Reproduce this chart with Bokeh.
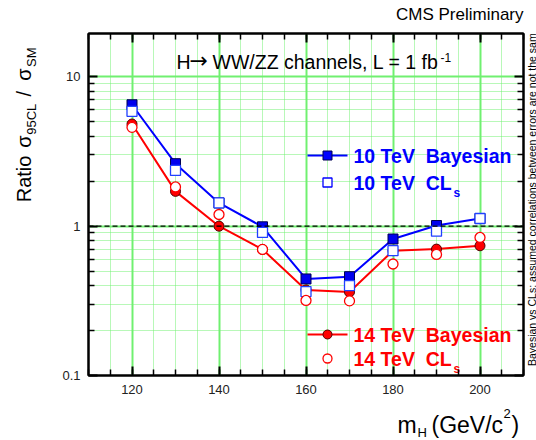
import math
from bokeh.plotting import figure
from bokeh.layouts import column, row
from bokeh.models import FixedTicker, LinearAxis, LogAxis, Span, CustomJSTickFormatter
from bokeh.core.properties import value
from bokeh.embed import file_html
from bokeh.resources import INLINE

# ---- data ----
mass = [120, 130, 140, 150, 160, 170, 180, 190, 200]
bayes_10 = [6.5, 2.62, 1.43, 0.99, 0.443, 0.459, 0.82, 1.01, 1.125]
cls_10 = [5.87, 2.36, 1.43, 0.908, 0.365, 0.40, 0.685, 0.926, 1.125]
bayes_14 = [4.83, 1.71, 1.0, 0.699, 0.374, 0.362, 0.685, 0.702, 0.739]
cls_14 = [4.59, 1.83, 1.197, 0.699, 0.318, 0.316, 0.558, 0.647, 0.84]

x_major = [120, 140, 160, 180, 200]
x_minor = list(range(110, 215, 5))
y_major = [0.1, 1, 10]
y_major_labels = ["0.1", "1", "10"]
y_minor = [0.2, 0.3, 0.4, 0.5, 0.6, 0.7, 0.8, 0.9, 2, 3, 4, 5, 6, 7, 8, 9]

FONT = "Liberation Sans"
GREEN = "#70f070"
BLUE = "#0000ff"
RED = "#ff0000"
X0, X1 = 110, 210
Y0, Y1 = 0.1, 19.5
NB = "\u00a0"

# page layout (pixels)
PW, PH = 536, 440
TOP_H = 25
LEFT_W = 50
RIGHT_W = 10
BOT_H = 40
MID_H = PH - TOP_H - BOT_H
MAIN_W = PW - LEFT_W - RIGHT_W
FL, FR, FT, FB = 88, 523, 33, 375  # frame edges on the page

p = figure(width=MAIN_W, height=MID_H, x_range=(X0, X1), y_range=(Y0, Y1), y_axis_type="log",
           output_backend="svg", toolbar_location=None,
           min_border_left=FL - LEFT_W, min_border_right=LEFT_W + MAIN_W - FR,
           min_border_top=FT - TOP_H, min_border_bottom=TOP_H + MID_H - FB)
p.background_fill_color = "white"
p.border_fill_color = "white"
p.outline_line_color = "black"
p.outline_line_width = 2

xt = FixedTicker(ticks=x_major, minor_ticks=x_minor)
yt = FixedTicker(ticks=y_major, minor_ticks=y_minor)
p.xaxis[0].ticker = xt
p.yaxis[0].ticker = yt
p.yaxis[0].major_label_overrides = {v: l for v, l in zip(y_major, y_major_labels)}

def style_axis(ax, labels=True):
    ax.axis_line_color = "black"
    ax.axis_line_width = 2
    ax.major_tick_in = 9
    ax.major_tick_out = 0
    ax.minor_tick_in = 6
    ax.minor_tick_out = 0
    ax.major_tick_line_width = 2
    ax.minor_tick_line_width = 1.5
    ax.major_label_text_font = FONT
    ax.major_label_text_font_size = "13px"
    ax.major_label_text_color = "#222222"
    ax.major_label_standoff = 9
    if not labels:
        ax.formatter = CustomJSTickFormatter(code="return ''")
        ax.major_label_standoff = 0

style_axis(p.xaxis[0])
style_axis(p.yaxis[0])
p.yaxis[0].major_label_standoff = 8

ax_top = LinearAxis(ticker=xt)
style_axis(ax_top, labels=False)
p.add_layout(ax_top, "above")
ax_right = LogAxis(ticker=yt)
style_axis(ax_right, labels=False)
p.add_layout(ax_right, "right")

for g in (p.xgrid[0], p.ygrid[0]):
    g.grid_line_color = GREEN
    g.grid_line_width = 2
    g.minor_grid_line_color = GREEN
    g.minor_grid_line_width = 1
    g.minor_grid_line_dash = "1 1"

p.add_layout(Span(location=1, dimension="width", line_color="black", line_width=1.2, line_dash="5 3"))

# ---- series ----
p.line(mass, bayes_10, line_color=BLUE, line_width=2)
p.line(mass, bayes_14, line_color=RED, line_width=2)
p.scatter(mass, bayes_10, marker="square", size=10, fill_color="#0000ee", line_color="#000050", line_width=1)
p.scatter(mass, bayes_14, marker="circle", size=10, fill_color=RED, line_color="#500000", line_width=1)
p.scatter(mass, cls_10, marker="square", size=10, fill_color="white", line_color="#2040ff", line_width=1.3)
p.scatter(mass, cls_14, marker="circle", size=10, fill_color="white", line_color=RED, line_width=1.3)

# ---- helpers: page pixel -> main-plot data coordinates ----
def to_data(px, py):
    dx = X0 + (px - FL) / (FR - FL) * (X1 - X0)
    ly0, ly1 = math.log10(Y0), math.log10(Y1)
    dy = 10 ** (ly0 + (FB - py) / (FB - FT) * (ly1 - ly0))
    return dx, dy

def ptext(px, py, txt, size, style="normal", color="black", font=FONT, align="left"):
    dx, dy = to_data(px, py)
    p.text([dx], [dy], text=[txt], text_font=value(font), text_font_size=size, text_font_style=style,
           text_color=color, text_baseline="middle", text_align=align)

# ---- legend (drawn by hand) ----
leg_rows = [
    (155, "10" + NB + "TeV" + NB + " Bayesian", BLUE, "square", True, "#000050"),
    (182, "10" + NB + "TeV" + NB + " CL", BLUE, "square", False, None),
    (334, "14" + NB + "TeV" + NB + " Bayesian", RED, "circle", True, "#500000"),
    (358, "14" + NB + "TeV" + NB + " CL", RED, "circle", False, None),
]
for py, txt, col, mk, filled, edge in leg_rows:
    a = to_data(307, py)
    b = to_data(347, py)
    c = to_data(327, py)
    if filled:
        p.line([a[0], b[0]], [a[1], b[1]], line_color=col, line_width=2)
        p.scatter([c[0]], [c[1]], marker=mk, size=9, fill_color=col, line_color=edge)
    else:
        p.scatter([c[0]], [c[1]], marker=mk, size=9, fill_color="white", line_color=col, line_width=1.3)
    ptext(353, py, txt, "19.5px", style="bold", color=col)
    if not filled:
        ptext(453, py + 10, "s", "12px", style="bold", color=col)

# ---- title inside the frame ----
ptext(176, 61, "H", "19.5px")
ptext(189, 60, "\u2192", "22px", font="DejaVu Sans")
ptext(212, 61, "WW/ZZ channels, L = 1 fb", "19.5px")
ptext(440, 57, "-1", "12px")

# ---- side panels for texts outside the frame ----
def panel(w, h):
    f = figure(width=w, height=h, x_range=(0, w), y_range=(0, h), output_backend="svg",
               toolbar_location=None, x_axis_location=None, y_axis_location=None, min_border=0)
    f.grid.visible = False
    f.outline_line_color = None
    f.background_fill_color = "white"
    f.border_fill_color = "white"
    return f

def put(f, ox, oy, px, py, txt, size, angle=0.0, align="left", style="normal", color="black"):
    f.text([px - ox], [f.height - (py - oy)], text=[txt], text_font=value(FONT), text_font_size=size,
           angle=angle, text_align=align, text_baseline="middle", text_font_style=style,
           text_color=color)

R = math.pi / 2

top = panel(PW, TOP_H)
put(top, 0, 0, 523, 14, "CMS Preliminary", "17px", align="right")

# rotated y label: each piece anchored at its centre
left = panel(LEFT_W, MID_H)
put(left, 0, TOP_H, 23, 184.5, "Ratio", "20px", angle=R, align="center")
put(left, 0, TOP_H, 23, 143.5, "\u03c3", "20px", angle=R, align="center")
put(left, 0, TOP_H, 31, 119, "95CL", "13px", angle=R, align="center")
put(left, 0, TOP_H, 23, 91, "/", "20px", angle=R, align="center")
put(left, 0, TOP_H, 23, 70, "\u03c3", "20px", angle=R, align="center")
put(left, 0, TOP_H, 31, 51, "SM", "13px", angle=R, align="center")

right = panel(RIGHT_W, MID_H)
put(right, PW - RIGHT_W, TOP_H, 531, 204,
    "Bayesian vs CLs: assumed correlations between errors are not the same", "10.5px",
    angle=R, align="center")

bottom = panel(PW, BOT_H)
oy = TOP_H + MID_H
put(bottom, 0, oy, 397, 424, "m", "23px")
put(bottom, 0, oy, 417, 432, "H", "13px")
put(bottom, 0, oy, 431, 424, "(GeV/c", "23px")
put(bottom, 0, oy, 503, 413, "2", "13px")
put(bottom, 0, oy, 511, 424, ")", "23px")

layout = column(top, row(left, p, right), bottom)
open("out.html", "w").write(file_html(layout, INLINE))
